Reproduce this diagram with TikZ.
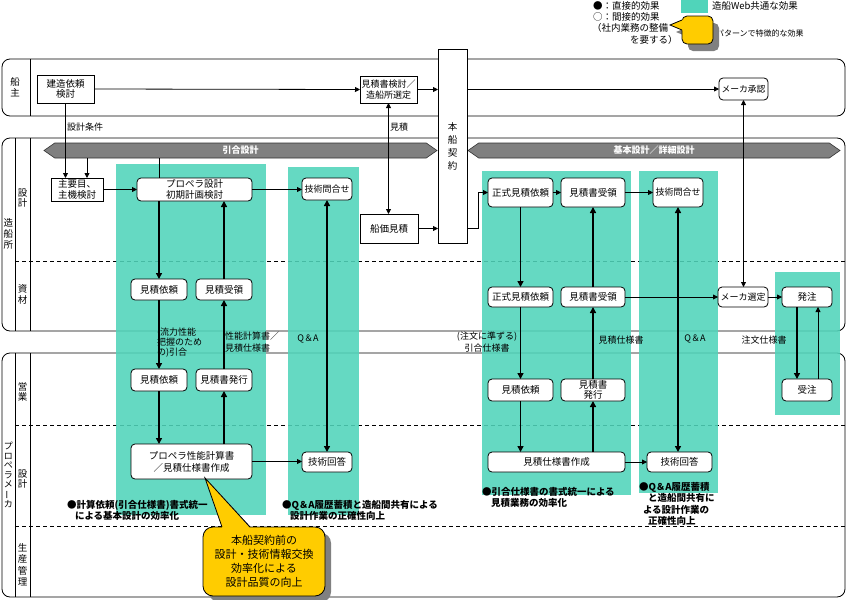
\documentclass[tikz,border=0pt]{standalone}
\usepackage{fontspec}
\usepackage{graphicx}
\setmainfont{Noto Sans CJK JP}
\usetikzlibrary{arrows.meta,shapes.symbols,calc}
\definecolor{tealfx}{RGB}{80,212,186}
\definecolor{calloutY}{RGB}{255,204,0}
\definecolor{barGray}{RGB}{128,128,128}
\begin{document}
\begin{tikzpicture}[x=1pt,y=-1pt,
  every node/.style={inner sep=0pt, outer sep=0pt},
  sz/.style 2 args={minimum width=#1pt, minimum height=#2pt},
  box/.style={draw, fill=white, line width=0.8pt, align=center, font=\fontsize{9.5}{10.5}\selectfont},
  rbox/.style={box, rounded corners=4pt},
  ar/.style={-{Triangle[length=5pt,width=5pt]}, line width=0.8pt},
  dar/.style={{Triangle[length=5pt,width=5pt]}-{Triangle[length=5pt,width=5pt]}, line width=0.8pt},
  tar/.style={-{Triangle[length=6pt,width=6pt]}, line width=1.8pt},
  tdar/.style={{Triangle[length=6pt,width=6pt]}-{Triangle[length=6pt,width=6pt]}, line width=1.8pt},
  lane/.style={line width=0.8pt, rounded corners=8pt},
  dashln/.style={line width=0.8pt, dash pattern=on 4pt off 3pt},
  tealbg/.style={fill=tealfx, fill opacity=0.88},
  lbl/.style={font=\fontsize{9}{10.5}\selectfont, align=left},
  vlbl/.style={font=\fontsize{9.5}{10.5}\selectfont, align=center},
  bul/.style={font=\fontsize{9.5}{10.5}\selectfont\bfseries, align=left},
  phasebar/.style={signal, signal to=west and east, signal pointer angle=70, draw=black!80, fill=barGray, line width=0.6pt, minimum height=15pt, text=white, font=\fontsize{9}{9}\selectfont\bfseries},
  yellowcallout/.style={fill=calloutY, draw=black, line width=0.8pt},
  cshadow/.style={fill=black!50},
]
\useasboundingbox (0,0) rectangle (847,600);

% ---- lanes ----
\draw[lane] (2,59) rectangle (845,116);
\draw[line width=0.8pt] (30,59) -- (30,116);
\draw[lane] (2,138) rectangle (845,331);
\draw[line width=0.8pt] (15,138) -- (15,331) (30,138) -- (30,331);
\draw[lane] (2,353) rectangle (845,597);
\draw[line width=0.8pt] (15,353) -- (15,597) (30,353) -- (30,597);
\draw[dashln] (15,261) -- (845,261);
\draw[dashln] (15,425) -- (845,425);
\draw[dashln] (15,526) -- (845,526);

% ---- teal areas ----
\fill[tealbg] (116,164) rectangle (266,515);
\fill[tealbg] (288,167) rectangle (359,515);
\fill[tealbg] (482,171) rectangle (631,495);
\fill[tealbg] (639,171) rectangle (718,493);
\fill[tealbg] (775,272) rectangle (840,415);

% ---- lane labels ----
\node[vlbl] (v1) at (15,87) {船\\主};
\node[vlbl, font=\fontsize{9.5}{11}\selectfont] (v2) at (8.5,234) {造\\船\\所};
\node[vlbl] (v3) at (22.5,198) {設\\計};
\node[vlbl] (v4) at (22.5,294.5) {資\\材};
\node[vlbl] (v5) at (22.5,392) {営\\業};
\node[vlbl] (v6) at (22.5,479) {設\\計};
\node[vlbl, font=\fontsize{9.5}{11.5}\selectfont] (v7) at (22.5,564.5) {生\\産\\管\\理};
\node[vlbl, font=\fontsize{9}{9.5}\selectfont] (v8) at (8.5,475) {プ\\ロ\\ペ\\ラ\\メ\\\rotatebox[origin=c]{90}{ー}\\カ};

% ---- phase bars ----
\node[phasebar, minimum width=393pt] (bar1) at (240.5,150.5) {引合設計};
\node[phasebar, minimum width=372pt] (bar2) at (654,150.5) {基本設計／詳細設計};

% ---- nodes ----
\node[box, sz={57}{28}] (kenzo) at (65.5,89) {建造依頼\\検討};
\node[box, sz={57}{27}, font=\fontsize{9}{10.5}\selectfont] (mitsuken) at (388.5,89.5) {見積書検討／\\造船所選定};
\node[rbox, sz={49}{22}, font=\fontsize{8.8}{10}\selectfont] (shonin) at (743.5,89) {メーカ承認};
\node[box, sz={29}{194}, font=\fontsize{9.5}{13}\selectfont] (keiyaku) at (452.5,146) {本\\船\\契\\約};
\node[box, sz={52}{23}] (shuyo) at (77,189.5) {主要目、\\主機検討};
\node[rbox, sz={115}{23}] (propd) at (194.5,189.5) {プロペラ設計\\初期計画検討};
\node[rbox, sz={50}{22}, font=\fontsize{9}{10}\selectfont] (gtoiL) at (327,189) {技術問合せ};
\node[box, sz={58}{29}] (senka) at (389,228.5) {船価見積};
\node[rbox, sz={56}{21}] (mirai1) at (159,289.5) {見積依頼};
\node[rbox, sz={56}{21}] (mijyu1) at (224,289.5) {見積受領};
\node[rbox, sz={65}{29}] (seishiki) at (520.5,192.5) {正式見積依頼};
\node[rbox, sz={64}{29}] (mjuryo) at (593,192.5) {見積書受領};
\node[rbox, sz={50}{29}, font=\fontsize{9}{10}\selectfont] (gtoiR) at (678,192.5) {技術問合せ};
\node[rbox, sz={65}{20}] (seishiki2) at (520.5,297) {正式見積依頼};
\node[rbox, sz={64}{20}] (mjuryo2) at (593,297) {見積書受領};
\node[rbox, sz={50}{20}, font=\fontsize{9}{10}\selectfont] (msentei) at (743,297) {メーカ選定};
\node[rbox, sz={50}{20}] (hatchu) at (807,297) {発注};
\node[rbox, sz={56}{22}] (mirai2) at (159,380) {見積依頼};
\node[rbox, sz={56}{22}] (mhakko) at (224,380) {見積書発行};
\node[rbox, sz={121}{35}, font=\fontsize{9.5}{12}\selectfont] (pcalc) at (191.5,461.5) {プロペラ性能計算書\\／見積仕様書作成};
\node[rbox, sz={50}{20}] (gkaiL) at (327,462) {技術回答};
\node[rbox, sz={65}{22}] (mirai3) at (520.5,390) {見積依頼};
\node[rbox, sz={64}{22}, font=\fontsize{9.5}{10}\selectfont] (mhakko2) at (593,390) {見積書\\発行};
\node[rbox, sz={137}{20}] (mshiyo) at (556.5,462) {見積仕様書作成};
\node[rbox, sz={65}{20}] (gkaiR) at (679.5,462) {技術回答};
\node[rbox, sz={50}{22}] (juchu) at (807,390) {受注};

% ---- connectors ----
\draw[ar] (kenzo.east) -- (mitsuken.west);
\draw[ar] (mitsuken.east) -- (mitsuken.east -| keiyaku.west);
\draw[ar] (keiyaku.east |- shonin.west) -- (shonin.west);
\draw[ar] (kenzo.south) -- (kenzo.south |- shuyo.north);
\coordinate (b1x) at ([xshift=-153.5pt]bar1.south);
\draw[ar] (b1x) -- (b1x |- shuyo.north);
\draw[line width=0.8pt] (bar1.south -| mirai1.north) -- (mirai1.north |- propd.north);
\draw[ar] (shuyo.east) -- (propd.west);
\draw[ar] (propd.east) -- (propd.east -| gtoiL.west);
\draw[dar] (mitsuken.south) -- (mitsuken.south |- senka.north);
\draw[ar] (senka.east) -- (senka.east -| keiyaku.west);
\draw[ar] (keiyaku.east |- senka.east) -| ([xshift=-10pt]seishiki.west) -- (seishiki.west);
\draw[ar] (seishiki.east) -- (mjuryo.west);
\draw[ar] (mjuryo.east) -- (gtoiR.west);
\draw[tar] (seishiki.south) -- (seishiki2.north);
\draw[tar] (mjuryo2.north) -- (mjuryo.south);
\draw[ar] (mjuryo2.east) -- (msentei.west);
\draw[dar] (shonin.south) -- (shonin.south |- msentei.north);
\draw[ar] (msentei.east) -- (hatchu.west);
\draw[tar] ([xshift=-10pt]hatchu.south) -- ([xshift=-10pt]juchu.north);
\draw[ar] ([xshift=11pt]juchu.north) -- ([xshift=11pt]hatchu.south);
\draw[tar] (seishiki2.south) -- (mirai3.north);
\draw[tar] (mirai3.south) -- (mirai3.south |- mshiyo.north);
\draw[tar] (mhakko2.south |- mshiyo.north) -- (mhakko2.south);
\draw[tar] (mhakko2.north) -- (mjuryo2.south);
\draw[ar] (mshiyo.east) -- (gkaiR.west);
\draw[tdar] (gtoiR.south) -- (gtoiR.south |- gkaiR.north);
\draw[tar] (mirai1.north |- propd.south) -- (mirai1.north);
\draw[tar] (mijyu1.north) -- (mijyu1.north |- propd.south);
\draw[tar] (mirai1.south) -- (mirai2.north);
\draw[tar] (mhakko.north) -- (mijyu1.south);
\draw[tar] (mirai2.south) -- (mirai2.south |- pcalc.north);
\draw[tar] (mhakko.south |- pcalc.north) -- (mhakko.south);
\draw[ar] (pcalc.east) -- (pcalc.east -| gkaiL.west);
\draw[tdar] (gkaiL.north) -- (gkaiL.north |- gtoiL.south);

% ---- connector labels ----
\node[lbl, anchor=west] (tSekkei) at (67,127) {設計条件};
\node[lbl, anchor=west] (tMitsu) at (390,127) {見積};
\node[lbl, anchor=west, font=\fontsize{9}{10}\selectfont] (tRyuriki) at (157,343) {(流力性能\\把握のため\\の)引合};
\node[lbl, anchor=west, font=\fontsize{9}{11.5}\selectfont] (tSeino) at (225,342) {性能計算書／\\見積仕様書};
\node[lbl] (tQA1) at (308,339) {Q＆A};
\node[lbl, align=center, font=\fontsize{9}{12}\selectfont] (tChumon) at (487,342) {(注文に準ずる)\\引合仕様書};
\node[lbl] (tMshiyo) at (621,340) {見積仕様書};
\node[lbl] (tQA2) at (695,339) {Q＆A};
\node[lbl] (tChumonShiyo) at (764,340) {注文仕様書};

% ---- effect bullets ----
\node[bul, anchor=north west] (e1) at (67,500.5) {●計算依頼(引合仕様書)書式統一\\\hspace*{8pt}による基本設計の効率化};
\node[bul, anchor=north west] (e2) at (282,500.5) {●Q＆A履歴蓄積と造船間共有による\\\hspace*{8pt}設計作業の正確性向上};
\node[bul, anchor=north west] (e3) at (482,487.5) {●引合仕様書の書式統一による\\\hspace*{9pt}見積業務の効率化};
\node[bul, anchor=north west, font=\fontsize{9.5}{11.3}\selectfont\bfseries] (e4) at (639,482.5) {●Q＆A履歴蓄積\\\hspace*{9pt}と造船間共有に\\\hspace*{4pt}よる設計作業の\\\hspace*{9pt}正確性向上};

% ---- legend ----
\node[lbl, anchor=west, font=\fontsize{9.5}{10}\selectfont] (lg1) at (593,6) {●：直接的効果};
\node[lbl, anchor=west, font=\fontsize{9.5}{10}\selectfont] (lg2) at (593,17) {○：間接的効果};
\node[lbl, anchor=west, font=\fontsize{9.5}{10}\selectfont] (lg3) at (592,28) {（社内業務の整備};
\node[lbl, anchor=west, font=\fontsize{9.5}{10}\selectfont] (lg4) at (630,39.5) {を要する）};
\node[fill=tealfx, sz={27}{13}] (lgsw) at (694.5,6.5) {};
\node[lbl, anchor=west, font=\fontsize{9.5}{10}\selectfont] (lg5) at (712,6) {造船Web共通な効果};
\node[lbl, anchor=west, font=\fontsize{8}{9}\selectfont] (lg6) at (716,33) {パターンで特徴的な効果};
% legend callout
\fill[cshadow, rounded corners=5pt] (688,23) rectangle (719,51);
\fill[cshadow] (676,32) -- (688,27) -- (688,37) -- cycle;
\draw[yellowcallout, rounded corners=5pt] (682,16) rectangle (713,44);
\fill[calloutY] (670,25) -- (683,19.5) -- (683,30.5) -- cycle;
\draw[line width=0.8pt] (682,20) -- (670,25) -- (682,30);

% ---- main callout ----
\fill[cshadow, rounded corners=10pt] (209,533) rectangle (331,602);
\fill[cshadow] (211,484) -- (228,533) -- (256,533) -- cycle;
\draw[yellowcallout, rounded corners=10pt] (203,527) rectangle (325,596);
\fill[calloutY] (205,478) -- (222.5,528.5) -- (250.5,528.5) -- cycle;
\draw[line width=0.8pt] (222,527) -- (205,478) -- (250,527);
\node[font=\fontsize{11}{14}\selectfont, align=center] (cotext) at (264,561) {本船契約前の\\設計・技術情報交換\\効率化による\\設計品質の向上};
\end{tikzpicture}
\end{document}
